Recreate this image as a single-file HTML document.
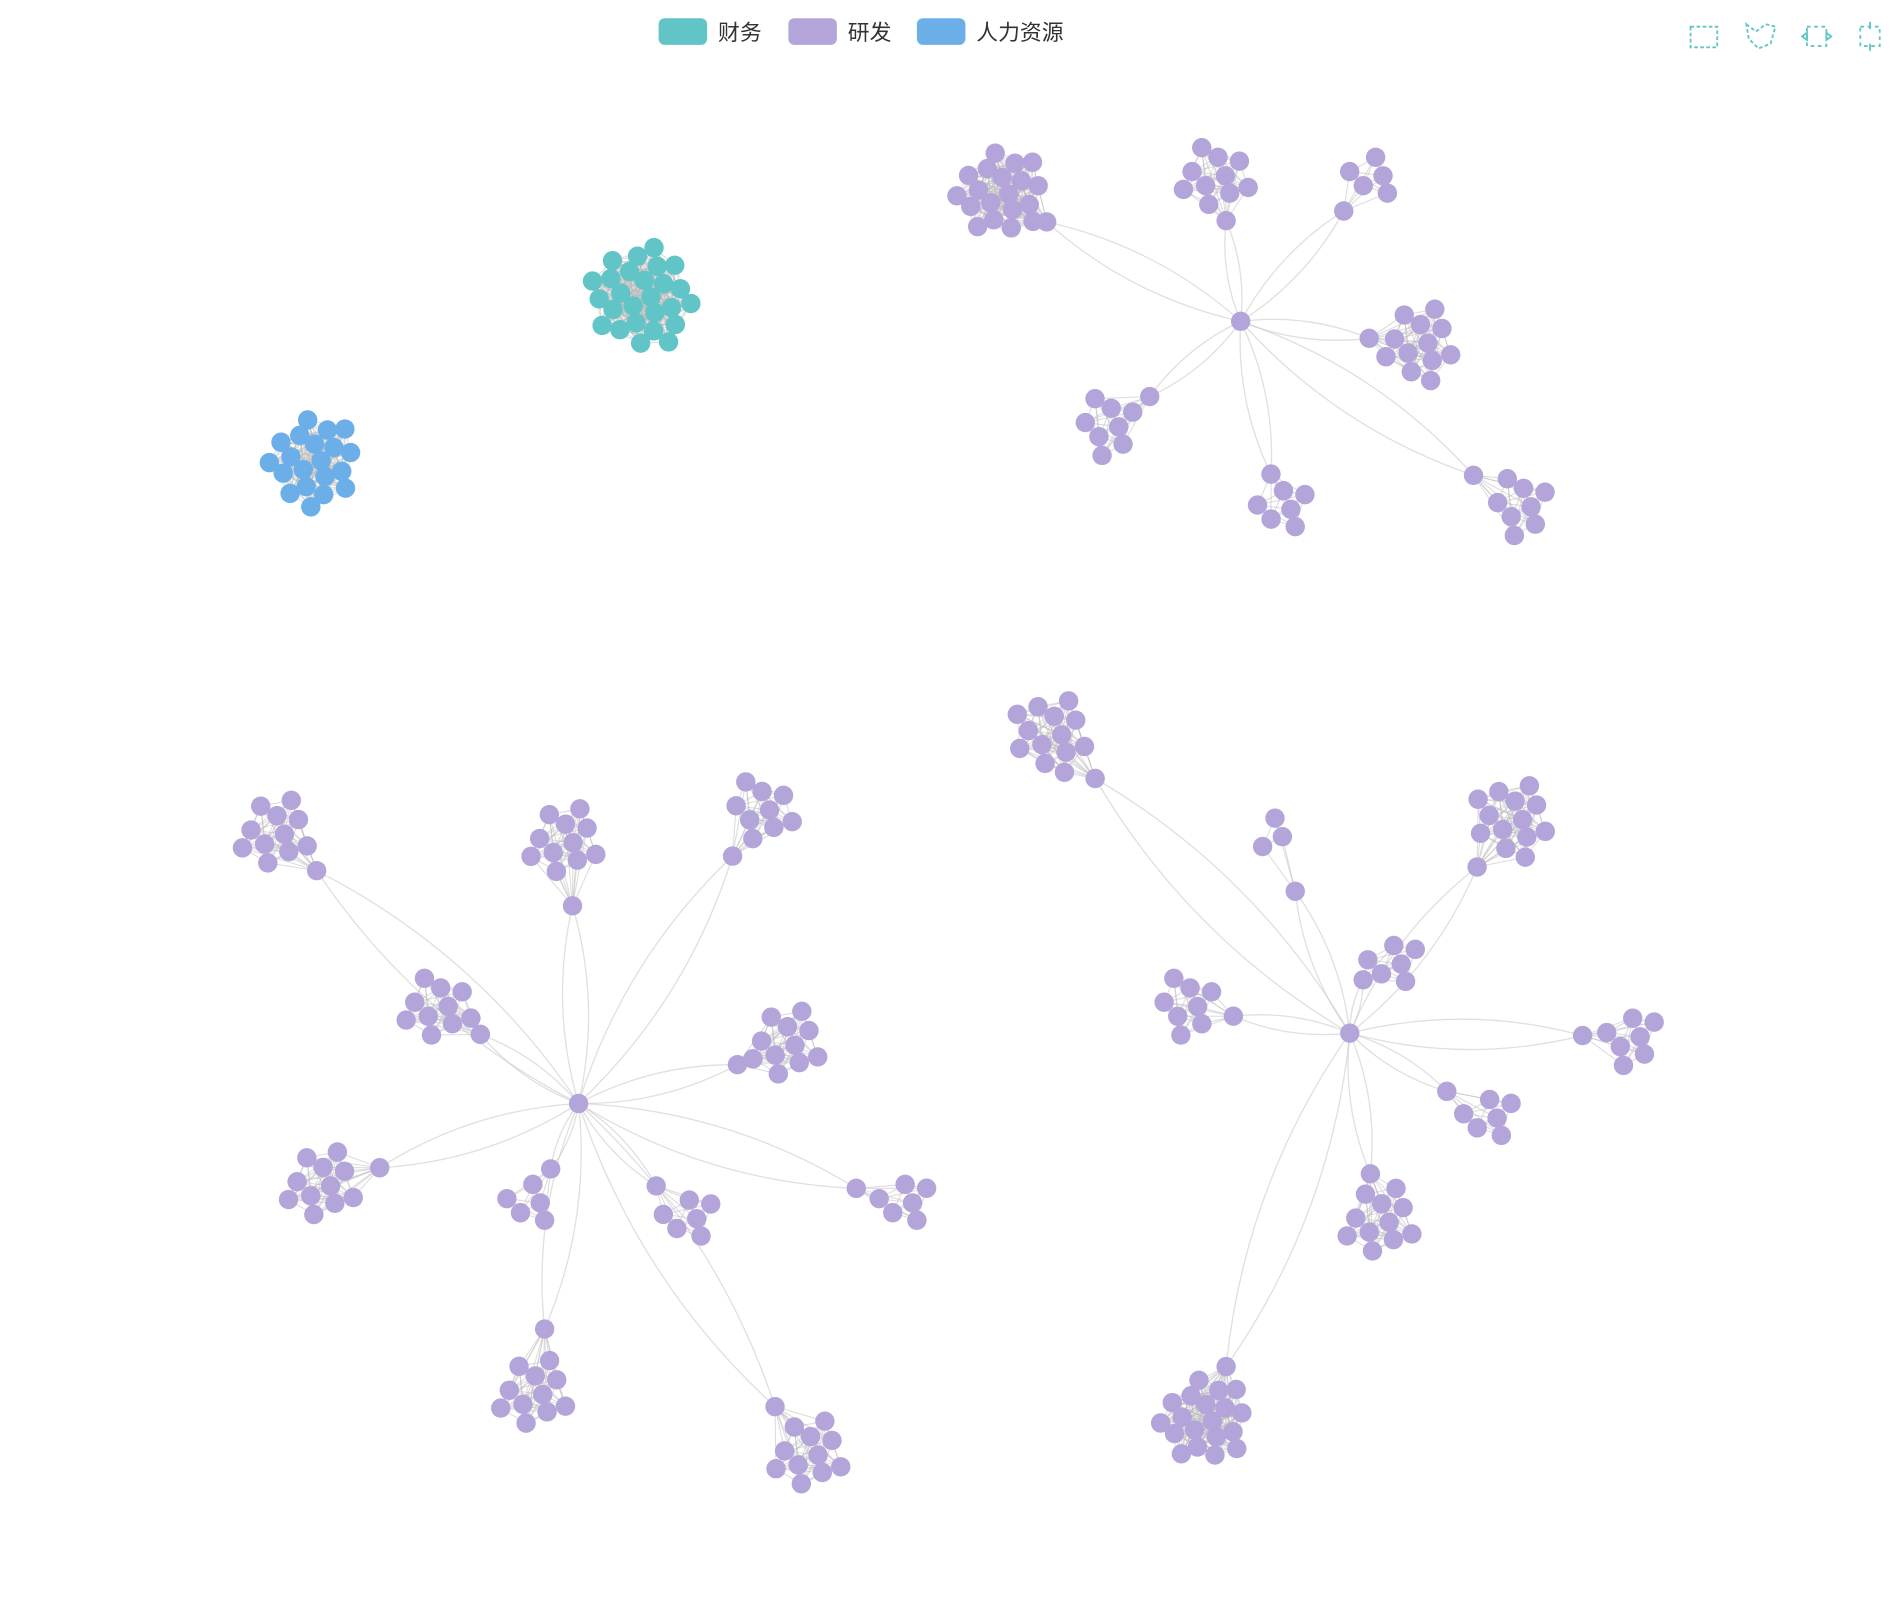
<!DOCTYPE html>
<html><head><meta charset="utf-8"><style>
html,body{margin:0;padding:0;background:#fff;}
svg{display:block;font-family:"Liberation Sans","Noto Sans CJK SC",sans-serif;}
</style></head><body>
<svg id="chart" width="1892" height="1614" viewBox="0 0 1560 1331" xmlns="http://www.w3.org/2000/svg">
<g>
 <g><rect x="543" y="15" width="40" height="22" rx="5" fill="#61c4c7"/><text x="592" y="33" font-size="18" fill="#333">财务</text></g>
 <g><rect x="650" y="15" width="40" height="22" rx="5" fill="#b3a5da"/><text x="699" y="33" font-size="18" fill="#333">研发</text></g>
 <g><rect x="756" y="15" width="40" height="22" rx="5" fill="#6caee8"/><text x="805" y="33" font-size="18" fill="#333">人力资源</text></g>
</g>
<g fill="none" stroke="#61c4c7" stroke-width="1.5">
 <g><rect x="1394" y="22" width="22" height="17" stroke-dasharray="3,2"/></g>
 <g><path d="M1440 20 L1448 26 L1456 20 L1464 22 L1460 36 L1450 40 L1442 32 Z" stroke-dasharray="3,2"/></g>
 <g><path d="M1490 22 h16 v16 h-16 z" stroke-dasharray="3,3"/><path d="M1486 30 l4 -3 v6 z M1510 30 l-4 -3 v6 z"/></g>
 <g><path d="M1534 22 h16 v16 h-16 z" stroke-dasharray="3,3"/><path d="M1542 18 v6 M1542 36 v6"/></g>
</g>
<g id="edges"></g>
<g id="nodes"></g>
</svg>
<script>
// categories
const categories = ['财务','研发','人力资源'];
const catColors = ['#61c4c7','#b3a5da','#6caee8'];
// standalone clusters: centers x, y, node counts, category
const loneX = [530, 258];
const loneY = [245, 380];
const loneN = [26, 20];
const loneCat = [0, 2];
// hubs
const hubX = [1023, 477, 1113];
const hubY = [265, 910, 852];
// clusters attached to hubs
const clHub =  [0,0,0,0,0,0,0, 1,1,1,1,1,1,1,1,1,1,1, 2,2,2,2,2,2,2,2,2];
const clX =    [825,1003,1133,1170,915,1057,1255, 227,465,627,362,648,265,438,567,745,440,667, 868,1050,1248,1148,980,1345,1227,1138,993];
const clY =    [160,145,145,283,352,420,418, 688,695,668,830,862,978,992,1005,992,1150,1200, 606,690,676,795,830,855,922,1008,1172];
const clN =    [20,11,6,13,9,7,9, 12,12,10,11,12,12,6,7,7,12,12, 14,4,14,7,9,8,7,12,20];
const attX =   [863,1011,1108,1129,948,1048,1215, 261,472,604,396,608,313,454,541,706,449,639, 903,1068,1218,1124,1017,1305,1193,1130,1011];
const attY =   [183,182,174,279,327,391,392, 718,747,706,853,878,963,964,978,980,1096,1160, 642,735,715,808,838,854,900,968,1127];

const NS='http://www.w3.org/2000/svg';
const eg=document.getElementById('edges'), ng=document.getElementById('nodes');
function mk(t,a){const e=document.createElementNS(NS,t);for(const k in a)e.setAttribute(k,a[k]);return e;}
function pack(cx,cy,n){const p=[];const g=2.39996;const c=n>15?8.6:9.5;
 for(let i=0;i<n;i++){const r=c*Math.sqrt(i+0.6);p.push([cx+r*Math.cos(i*g),cy+r*Math.sin(i*g)]);}return p;}
function node(x,y,col,name){const c=mk('circle',{cx:x.toFixed(1),cy:y.toFixed(1),r:8,fill:col});
 
 
 ng.appendChild(c);}
function line(x1,y1,x2,y2,op){const l=mk('line',{x1,y1,x2,y2,stroke:'#bbb','stroke-width':0.9,'stroke-opacity':op});
 
 
 eg.appendChild(l);}
function cluster(pts,col,name){
 for(let i=0;i<pts.length;i++)for(let j=i+1;j<pts.length;j++)line(pts[i][0],pts[i][1],pts[j][0],pts[j][1],0.5);
 pts.forEach(p=>node(p[0],p[1],col,name));}
for(let k=0;k<loneX.length;k++){cluster(pack(loneX[k],loneY[k],loneN[k]),catColors[loneCat[k]],'node-'+(loneCat[k]==0?'finance':'hr'));}
for(let k=0;k<clX.length;k++){
 const h=clHub[k];const hx=hubX[h],hy=hubY[h],ax=attX[k],ay=attY[k];
 const dx=ax-hx,dy=ay-hy;
 [0.13,-0.13].forEach(f=>{
  const mx=(hx+ax)/2-dy*f,my=(hy+ay)/2+dx*f;
  const p=mk('path',{d:`M${hx} ${hy} Q${mx.toFixed(1)} ${my.toFixed(1)} ${ax} ${ay}`,fill:'none',stroke:'#ccc','stroke-width':1.1,'stroke-opacity':0.6});
  
  
  eg.appendChild(p);
 });
 const pts=pack(clX[k],clY[k],clN[k]-1);pts.push([ax,ay]);
 cluster(pts,catColors[1],'node-rd');
}
for(let h=0;h<hubX.length;h++)node(hubX[h],hubY[h],catColors[1],'hub-node');
</script>
</body></html>
